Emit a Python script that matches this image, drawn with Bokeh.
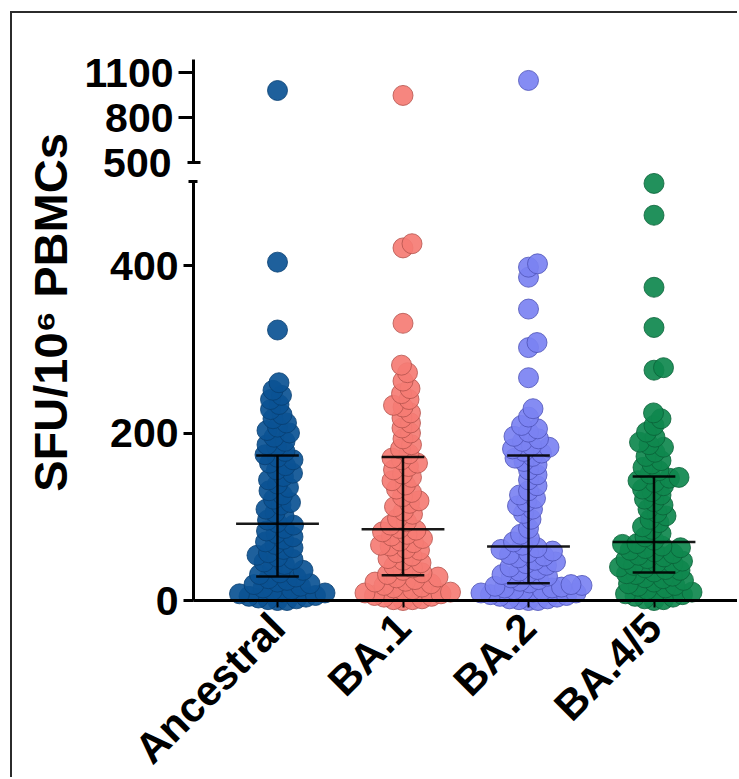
import numpy as np
from math import pi
from bokeh.plotting import figure
from bokeh.models import Range1d, LinearAxis, FixedTicker, Label, ColumnDataSource
from bokeh.embed import file_html
from bokeh.resources import INLINE

# ---------------- data ----------------
categories = ["Ancestral", "BA.1", "BA.2", "BA.4/5"]

ancestral = [0, 0, 1, 2, 3, 4, 5, 6, 8, 9, 10, 12, 13, 15, 17, 19, 20, 22, 24, 26, 28,
             31, 33, 36, 40, 43, 46, 49, 52, 54, 57, 61, 63, 67, 70, 73, 76, 80, 83, 86, 90,
             93, 96, 101, 105, 109, 114, 117, 121, 126, 131, 135, 139, 144, 148, 152, 156, 161,
             164, 168, 171, 174,
             178, 184, 186, 190, 195, 200, 203, 207, 212, 217, 222, 228, 234, 240, 245, 251, 260,
             323, 404, 980]
ba1 = [0, 1, 1, 2, 4, 5, 6, 8, 9, 10, 12, 13, 15, 16, 18, 20, 22, 23, 25, 27, 28,
       31, 33, 36, 39, 41, 45, 48, 50, 53, 57, 60, 62, 65, 66, 69, 71, 74, 77, 79, 82, 84,
       86, 90, 94, 98, 103, 107, 112, 116, 119, 124, 129, 133, 138, 143, 147, 151, 156, 160,
       164, 168, 170,
       175, 181, 186, 193, 200, 206, 212, 218, 224, 231, 233, 240, 247, 253, 262, 272, 281,
       331, 421, 426, 947]
ba2 = [0, 0, 1, 2, 2, 4, 5, 6, 7, 9, 9, 10, 12, 12, 13, 15, 15, 16, 17, 18, 19,
       21, 23, 25, 27, 29, 31, 33, 35, 37, 40, 42, 44, 46, 48, 51, 53, 55, 57, 59, 61, 63,
       66, 70, 74, 79, 86, 97, 104, 109, 113, 118, 122, 126, 131, 137, 144, 150, 156, 162,
       166, 170, 172,
       176, 178, 181, 183, 185, 190, 193, 196, 201, 205, 209, 219, 229, 266, 302, 308, 348,
       386, 398, 402, 1047]
ba45 = [0, 1, 2, 4, 5, 7, 8, 10, 11, 13, 15, 17, 18, 20, 22, 24, 26, 27, 29, 31, 32,
        34, 36, 37, 39, 40, 42, 44, 45, 47, 49, 50, 52, 54, 56, 58, 60, 62, 63, 65, 67, 68,
        72, 76, 80, 85, 88, 93, 97, 101, 105, 109, 114, 118, 121, 126, 130, 133, 137, 141,
        143, 146, 147,
        151, 155, 159, 163, 167, 172, 177, 183, 186, 189, 195, 201, 209, 217, 224, 275, 278,
        326, 374, 460, 498]
groups = [ancestral, ba1, ba2, ba45]

fill_colors = ["#0b5394", "#f57c74", "#7b82f2", "#0f884e"]
edge_colors = ["#083f72", "#b4524c", "#4d53b6", "#0a6238"]

lower_ticks = [0, 200, 400]
upper_ticks = [800, 1100]
break_value = 500
upper_top = 1190
y_title = "SFU/10\u2076 PBMCs"

# ---------------- layout (window pixels) ----------------
CANVAS_L, CANVAS_T, CANVAS_W, CANVAS_H = 12, 13, 727, 766
AXIS_X = 193          # y axes position
CAT0_X, CAT_STEP = 277, 125.5
ZERO_Y, LOW_PX = 600, 0.8375       # lower segment: 0 at y=600
BRK_Y, UP_PX = 162, 0.15           # upper segment: 500 at y=162

X0 = -(CAT0_X - CANVAS_L) / CAT_STEP
X1 = (CANVAS_L + CANVAS_W - CAT0_X) / CAT_STEP
XAX = (AXIS_X - CAT0_X) / CAT_STEP
LOW = Range1d((ZERO_Y - (CANVAS_T + CANVAS_H)) / LOW_PX, (ZERO_Y - CANVAS_T) / LOW_PX)
UP = Range1d(break_value - (CANVAS_T + CANVAS_H - BRK_Y) / UP_PX,
             break_value + (BRK_Y - CANVAS_T) / UP_PX)


def ypix(v):
    return v * LOW_PX if v <= break_value else 1000 + v * UP_PX


def swarm(vals, d=9.5, step=0.5):
    ys = np.array([ypix(v) for v in vals])
    order = np.argsort(vals, kind="stable")
    offs = np.zeros(len(vals))
    placed = []
    for i in order:
        k = 0
        while True:
            cands = [0.0] if k == 0 else [k * step, -k * step]
            ok_c = None
            for c in cands:
                if all((px - c) ** 2 + (py - ys[i]) ** 2 >= d * d for px, py in placed):
                    ok_c = c
                    break
            if ok_c is not None:
                offs[i] = ok_c
                placed.append((ok_c, ys[i]))
                break
            k += 1
    return offs / CAT_STEP


p = figure(width=CANVAS_W, height=CANVAS_H, x_range=Range1d(X0, X1), y_range=LOW,
           output_backend="svg", toolbar_location=None, y_axis_location=None,
           min_border_left=0, min_border_right=0, min_border_top=0, min_border_bottom=0,
           margin=(11, 0, 0, 10),
           styles={"border-left": "2px solid #2b2b2b", "border-top": "2px solid #2b2b2b"})
p.extra_y_ranges = {"upper": UP}
p.outline_line_color = None
p.grid.visible = False
p.background_fill_color = "white"
p.border_fill_color = "white"

FONT = "Liberation Sans"

# x axis at y = 0
xa = p.xaxis[0]
xa.fixed_location = 0
xa.bounds = (XAX, X1)
xa.ticker = FixedTicker(ticks=list(range(len(categories))))
xa.major_label_overrides = {i: c for i, c in enumerate(categories)}
xa.major_label_orientation = pi / 4
xa.major_label_text_font = FONT
xa.major_label_text_font_style = "bold"
xa.major_label_text_font_size = "42px"
xa.major_label_text_color = "black"
xa.major_label_standoff = 13
xa.axis_line_width = 3
xa.axis_line_color = "black"
xa.major_tick_line_width = 2
xa.major_tick_out = 7
xa.major_tick_in = 0
xa.minor_tick_line_color = None


def yaxis(rng, ticks, bounds, t_out, t_in, standoff, labels=True, line=True):
    kw = {} if rng is None else {"y_range_name": rng}
    ax = LinearAxis(ticker=FixedTicker(ticks=ticks), bounds=bounds, fixed_location=XAX, **kw)
    ax.major_tick_out = t_out
    ax.major_tick_in = t_in
    ax.major_tick_line_width = 3
    ax.major_tick_line_color = "black"
    ax.minor_tick_line_color = None
    ax.axis_line_width = 3
    ax.axis_line_color = "black" if line else None
    ax.major_label_standoff = standoff
    ax.major_label_text_font = FONT
    ax.major_label_text_font_style = "bold"
    ax.major_label_text_font_size = "41px"
    ax.major_label_text_color = "black"
    if not labels:
        ax.major_label_overrides = {t: "" for t in ticks}
    p.add_layout(ax, "left")
    return ax


yaxis(None, lower_ticks, (0, break_value), 10, 0, 5)
yaxis(None, [break_value], (0, break_value), 5, 4, 5, labels=False, line=False)
yaxis("upper", upper_ticks, (break_value, upper_top), 15, 0, 5)
yaxis("upper", [break_value], (break_value, upper_top), 6, 7, 16, line=False)

# points
for gi, vals in enumerate(groups):
    offs = swarm(vals)
    xs = gi + offs
    low = [(x, v) for x, v in zip(xs, vals) if v <= break_value]
    up = [(x, v) for x, v in zip(xs, vals) if v > break_value]
    common = dict(size=20, fill_color=fill_colors[gi], fill_alpha=0.92,
                  line_color=edge_colors[gi], line_alpha=0.8, line_width=1)
    if low:
        src = ColumnDataSource(dict(x=[a for a, _ in low], y=[b for _, b in low]))
        p.scatter("x", "y", source=src, **common)
    if up:
        src = ColumnDataSource(dict(x=[a for a, _ in up], y=[b for _, b in up]))
        p.scatter("x", "y", source=src, y_range_name="upper", **common)

# median and interquartile range
q1s, meds, q3s = [], [], []
for vals in groups:
    a, b, c = np.percentile(vals, [25, 50, 75])
    q1s.append(a); meds.append(b); q3s.append(c)
cx = np.arange(len(categories))
bars = ColumnDataSource(dict(
    x0=np.concatenate([cx - 0.33, cx - 0.17, cx - 0.17, cx]),
    x1=np.concatenate([cx + 0.33, cx + 0.17, cx + 0.17, cx]),
    y0=np.concatenate([meds, q1s, q3s, q1s]),
    y1=np.concatenate([meds, q1s, q3s, q3s]),
))
p.segment("x0", "y0", "x1", "y1", source=bars, line_color="black", line_width=2.5, line_alpha=0.9)

# y title
p.add_layout(Label(x=(50 - CAT0_X) / CAT_STEP, y=(ZERO_Y - 312) / LOW_PX,
                   text=y_title, angle=pi / 2, text_align="center", text_baseline="middle",
                   text_font=FONT, text_font_style="bold", text_font_size="47px",
                   text_color="black"))

open("out.html", "w").write(file_html(p, INLINE))
